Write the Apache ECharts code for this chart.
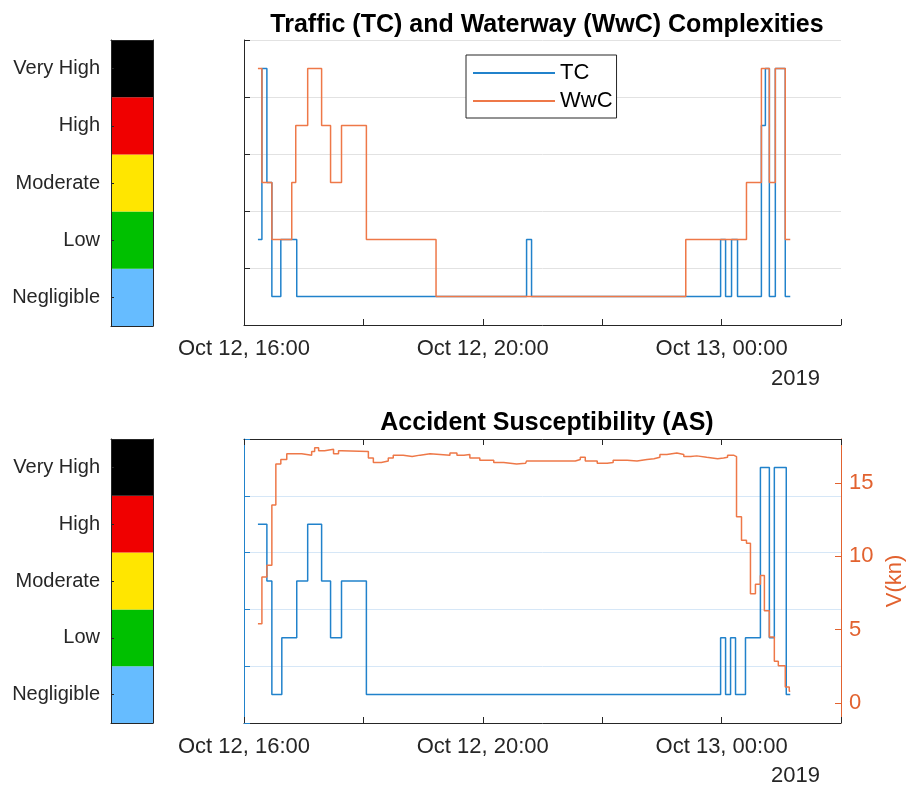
<!DOCTYPE html>
<html>
<head>
<meta charset="utf-8">
<script src="https://cdn.jsdelivr.net/npm/echarts@6/dist/echarts.min.js"></script>
<style>
  html, body { margin: 0; padding: 0; background: #fff; }
  #chart { width: 909px; height: 787px; }
</style>
</head>
<body>
<div id="chart"></div>
<script>
// complexity levels, bottom to top
var levelNames = ['Negligible', 'Low', 'Moderate', 'High', 'Very High'];
var levelColors = ['#66bcff', '#00c000', '#ffe600', '#f00000', '#000000'];

// Traffic complexity (level index 1..5), value holds until next time
var tcTime = ['16:14', '16:18', '16:23', '16:28', '16:37', '16:53', '20:44', '20:49', '23:59',
  '00:04', '00:10', '00:16', '00:40', '00:44', '00:48', '00:54', '01:04', '01:09'];
var tcLevel = [2, 5, 3, 1, 2, 1, 2, 1, 2, 1, 2, 1, 4, 5, 1, 5, 1, 1];

// Waterway complexity
var wwcTime = ['16:14', '16:18', '16:28', '16:48', '16:52', '17:04', '17:18', '17:27', '17:38',
  '18:03', '19:13', '23:24', '00:25', '00:40', '00:48', '00:54', '01:04', '01:09'];
var wwcLevel = [5, 3, 2, 3, 4, 5, 4, 3, 4, 2, 1, 2, 3, 5, 3, 5, 2, 2];

// Accident susceptibility
var asTime = ['16:14', '16:23', '16:28', '16:38', '16:53', '17:04', '17:18', '17:27', '17:38',
  '18:03', '23:59', '00:04', '00:09', '00:14', '00:24', '00:39', '00:48', '00:53', '01:05', '01:09'];
var asLevel = [4, 3, 1, 2, 3, 4, 3, 2, 3, 1, 2, 1, 2, 1, 2, 5, 2, 5, 1, 1];

// speed (kn)
var speedTime = ['16:14', '16:18', '16:23', '16:28', '16:32', '16:37', '16:43', '16:58', '17:08',
  '17:11', '17:15', '17:21', '17:30', '17:35', '17:38', '18:05', '18:10', '18:18', '18:25',
  '18:30', '18:40', '18:49', '18:57', '19:07', '19:27', '19:34', '19:41', '19:47', '19:57',
  '20:11', '20:21', '20:34', '20:43', '20:44', '21:33', '21:38', '21:43', '21:55', '22:05',
  '22:11', '22:25', '22:35', '22:45', '22:52', '22:58', '23:05', '23:15', '23:22', '23:29',
  '23:35', '23:45', '23:56', '00:02', '00:06', '00:12', '00:15', '00:20', '00:25', '00:29',
  '00:34', '00:39', '00:43', '00:48', '00:53', '00:57', '01:04', '01:08', '01:09'];
var speedKn = [5.4, 8.6, 9.4, 13.5, 16.3, 16.6, 17.0, 16.9, 17.15,
  17.4, 17.2, 17.3, 17.0, 17.2, 17.15, 16.7, 16.4, 16.5, 16.7,
  16.9, 16.8, 16.9, 17.0, 16.9, 17.05, 16.9, 16.95, 16.7, 16.55,
  16.4, 16.3, 16.35, 16.25, 16.5, 16.6, 16.75, 16.5, 16.35, 16.4,
  16.55, 16.5, 16.6, 16.65, 16.75, 16.95, 17.05, 16.95, 16.8, 16.85,
  16.75, 16.65, 16.7, 16.75, 16.9, 16.8, 12.7, 11.1, 10.9, 7.45,
  8.1, 8.7, 6.3, 4.5, 2.85, 2.55, 1.1, 0.8, 0.8];

var speedTicks = [0, 5, 10, 15];

var FONT = 'Liberation Sans, Arial, Helvetica, sans-serif';
var BLUE = '#2182cb';
var ORANGE = '#ee7848';
var AXIS = '#262626';
var H = 3600000;
var tStart = Date.UTC(2019, 9, 12, 16, 0);
var tEnd = Date.UTC(2019, 9, 13, 2, 0);
var months = ['Jan', 'Feb', 'Mar', 'Apr', 'May', 'Jun', 'Jul', 'Aug', 'Sep', 'Oct', 'Nov', 'Dec'];

function toTs(s) {
  var p = s.split(':');
  var h = +p[0];
  var day = h < 12 ? 13 : 12;
  return Date.UTC(2019, 9, day, h, +p[1]);
}
function pad(n) { return n < 10 ? '0' + n : '' + n; }
function fmtTime(v) {
  var d = new Date(v);
  var h = d.getUTCHours();
  if (h % 4 !== 0 || v >= tEnd) return '';
  return months[d.getUTCMonth()] + ' ' + d.getUTCDate() + ', ' + pad(h) + ':00';
}
function levelData(times, levels) {
  var out = [];
  for (var i = 0; i < times.length; i++) out.push([toTs(times[i]), levels[i] - 0.5]);
  return out;
}

var chart = echarts.init(document.getElementById('chart'));

// colour bar axes (one set per panel)
function barAxes(g) {
  return {
    x: [
      { gridIndex: g, type: 'value', min: 0, max: 1, position: 'bottom', z: 5,
        axisLine: { show: true, onZero: false, lineStyle: { color: AXIS, width: 1 } },
        axisTick: { show: false }, axisLabel: { show: false }, splitLine: { show: false } },
      { gridIndex: g, type: 'value', min: 0, max: 1, position: 'top', z: 5,
        axisLine: { show: true, onZero: false, lineStyle: { color: AXIS, width: 1 } },
        axisTick: { show: false }, axisLabel: { show: false }, splitLine: { show: false } }
    ],
    y: [
      { gridIndex: g, type: 'category', data: levelNames, position: 'left', z: 5,
        axisLine: { show: true, onZero: false, lineStyle: { color: AXIS, width: 1 } },
        axisTick: { show: true, inside: true, length: 3, alignWithLabel: true, lineStyle: { color: AXIS } },
        axisLabel: { fontSize: 20, color: '#262626', fontFamily: FONT, margin: 11 } },
      { gridIndex: g, type: 'category', data: levelNames, position: 'right', z: 5,
        axisLine: { show: true, onZero: false, lineStyle: { color: AXIS, width: 1 } },
        axisTick: { show: false }, axisLabel: { show: false } }
    ]
  };
}
function timeAxis(g, pos, labels) {
  return {
    gridIndex: g, type: 'value', min: tStart, max: tEnd, interval: 2 * H, position: pos,
    axisLine: { show: true, onZero: false, lineStyle: { color: AXIS, width: 1 } },
    axisTick: { show: true, inside: true, length: 6, lineStyle: { color: AXIS } },
    axisLabel: { show: labels, formatter: fmtTime, fontSize: 22, color: '#262626', fontFamily: FONT, margin: 13,
      showMinLabel: true, showMaxLabel: true, hideOverlap: false },
    splitLine: { show: false }
  };
}
function colorBarSeries(xi, yi) {
  return {
    type: 'bar', xAxisIndex: xi, yAxisIndex: yi, barWidth: '100%', silent: true,
    data: levelColors.map(function (c) { return { value: 1, itemStyle: { color: c } }; })
  };
}

var cb0 = barAxes(0);
var cb1 = barAxes(2);

chart.setOption({
  animation: false,
  backgroundColor: '#fff',
  textStyle: { fontFamily: FONT },
  title: [
    { text: 'Traffic (TC) and Waterway (WwC) Complexities', left: 542, top: 8, textAlign: 'center',
      textStyle: { fontSize: 25, fontWeight: 'bold', color: '#000', fontFamily: FONT } },
    { text: 'Accident Susceptibility (AS)', left: 542, top: 406, textAlign: 'center',
      textStyle: { fontSize: 25, fontWeight: 'bold', color: '#000', fontFamily: FONT } }
  ],
  legend: {
    data: ['TC', 'WwC'], orient: 'vertical', left: 466, top: 55,
    icon: 'rect', itemWidth: 82, itemHeight: 2, itemGap: 6,
    padding: [7, 4, 6, 7], borderColor: AXIS, borderWidth: 1, backgroundColor: '#fff',
    textStyle: { fontSize: 22, color: '#000', fontFamily: FONT }
  },
  grid: [
    { left: 111, top: 40, width: 42, height: 286, outerBoundsMode: 'none' },
    { left: 244, top: 40, width: 597, height: 285, outerBoundsMode: 'none' },
    { left: 111, top: 439, width: 42, height: 284, outerBoundsMode: 'none' },
    { left: 244, top: 439, width: 597, height: 284, outerBoundsMode: 'none' }
  ],
  xAxis: [
    cb0.x[0], cb0.x[1], cb1.x[0], cb1.x[1],
    timeAxis(1, 'bottom', true),
    timeAxis(3, 'bottom', true),
    timeAxis(3, 'top', false)
  ],
  yAxis: [
    cb0.y[0], cb0.y[1], cb1.y[0], cb1.y[1],
    { gridIndex: 1, type: 'value', min: 0, max: 5, interval: 1,
      axisLine: { show: true, onZero: false, lineStyle: { color: AXIS, width: 1 } },
      axisTick: { show: true, inside: true, length: 6, lineStyle: { color: AXIS } },
      axisLabel: { show: false },
      splitLine: { show: true, lineStyle: { color: '#e2e2e2', width: 1 } } },
    { gridIndex: 3, type: 'value', min: 0, max: 5, interval: 1, position: 'left',
      axisLine: { show: true, onZero: false, lineStyle: { color: BLUE, width: 1 } },
      axisTick: { show: true, inside: true, length: 6, lineStyle: { color: BLUE } },
      axisLabel: { show: false },
      splitLine: { show: true, lineStyle: { color: '#d6e7f7', width: 1 } } },
    { gridIndex: 3, type: 'value', min: -1.36, max: 18, position: 'right',
      name: 'V(kn)', nameLocation: 'middle', nameRotate: 90, nameGap: 42,
      nameTextStyle: { fontSize: 22, color: '#e2622f', fontFamily: FONT },
      axisLine: { show: true, onZero: false, lineStyle: { color: '#e2622f', width: 1 } },
      axisTick: { show: true, inside: true, length: 6, customValues: speedTicks, lineStyle: { color: '#e2622f' } },
      axisLabel: { customValues: speedTicks, fontSize: 22, color: '#e2622f', fontFamily: FONT, margin: 8 },
      splitLine: { show: false } }
  ],
  graphic: [
    { type: 'text', left: 771, top: 368, style: { text: '2019', fill: '#262626', font: '22px ' + FONT } },
    { type: 'text', left: 771, top: 765, style: { text: '2019', fill: '#262626', font: '22px ' + FONT } }
  ],
  series: [
    colorBarSeries(0, 0),
    colorBarSeries(2, 2),
    { name: 'TC', type: 'line', xAxisIndex: 4, yAxisIndex: 4, step: 'end', symbol: 'none',
      lineStyle: { color: BLUE, width: 1.5 }, itemStyle: { color: BLUE },
      data: levelData(tcTime, tcLevel) },
    { name: 'WwC', type: 'line', xAxisIndex: 4, yAxisIndex: 4, step: 'end', symbol: 'none',
      lineStyle: { color: ORANGE, width: 1.5 }, itemStyle: { color: ORANGE },
      data: levelData(wwcTime, wwcLevel) },
    { name: 'AS', type: 'line', xAxisIndex: 5, yAxisIndex: 5, step: 'end', symbol: 'none',
      lineStyle: { color: BLUE, width: 1.5 },
      data: levelData(asTime, asLevel) },
    { name: 'V', type: 'line', xAxisIndex: 5, yAxisIndex: 6, step: 'end', symbol: 'none',
      lineStyle: { color: ORANGE, width: 1.5 },
      data: speedTime.map(function (t, i) { return [toTs(t), speedKn[i]]; }) }
  ]
});
</script>
</body>
</html>
